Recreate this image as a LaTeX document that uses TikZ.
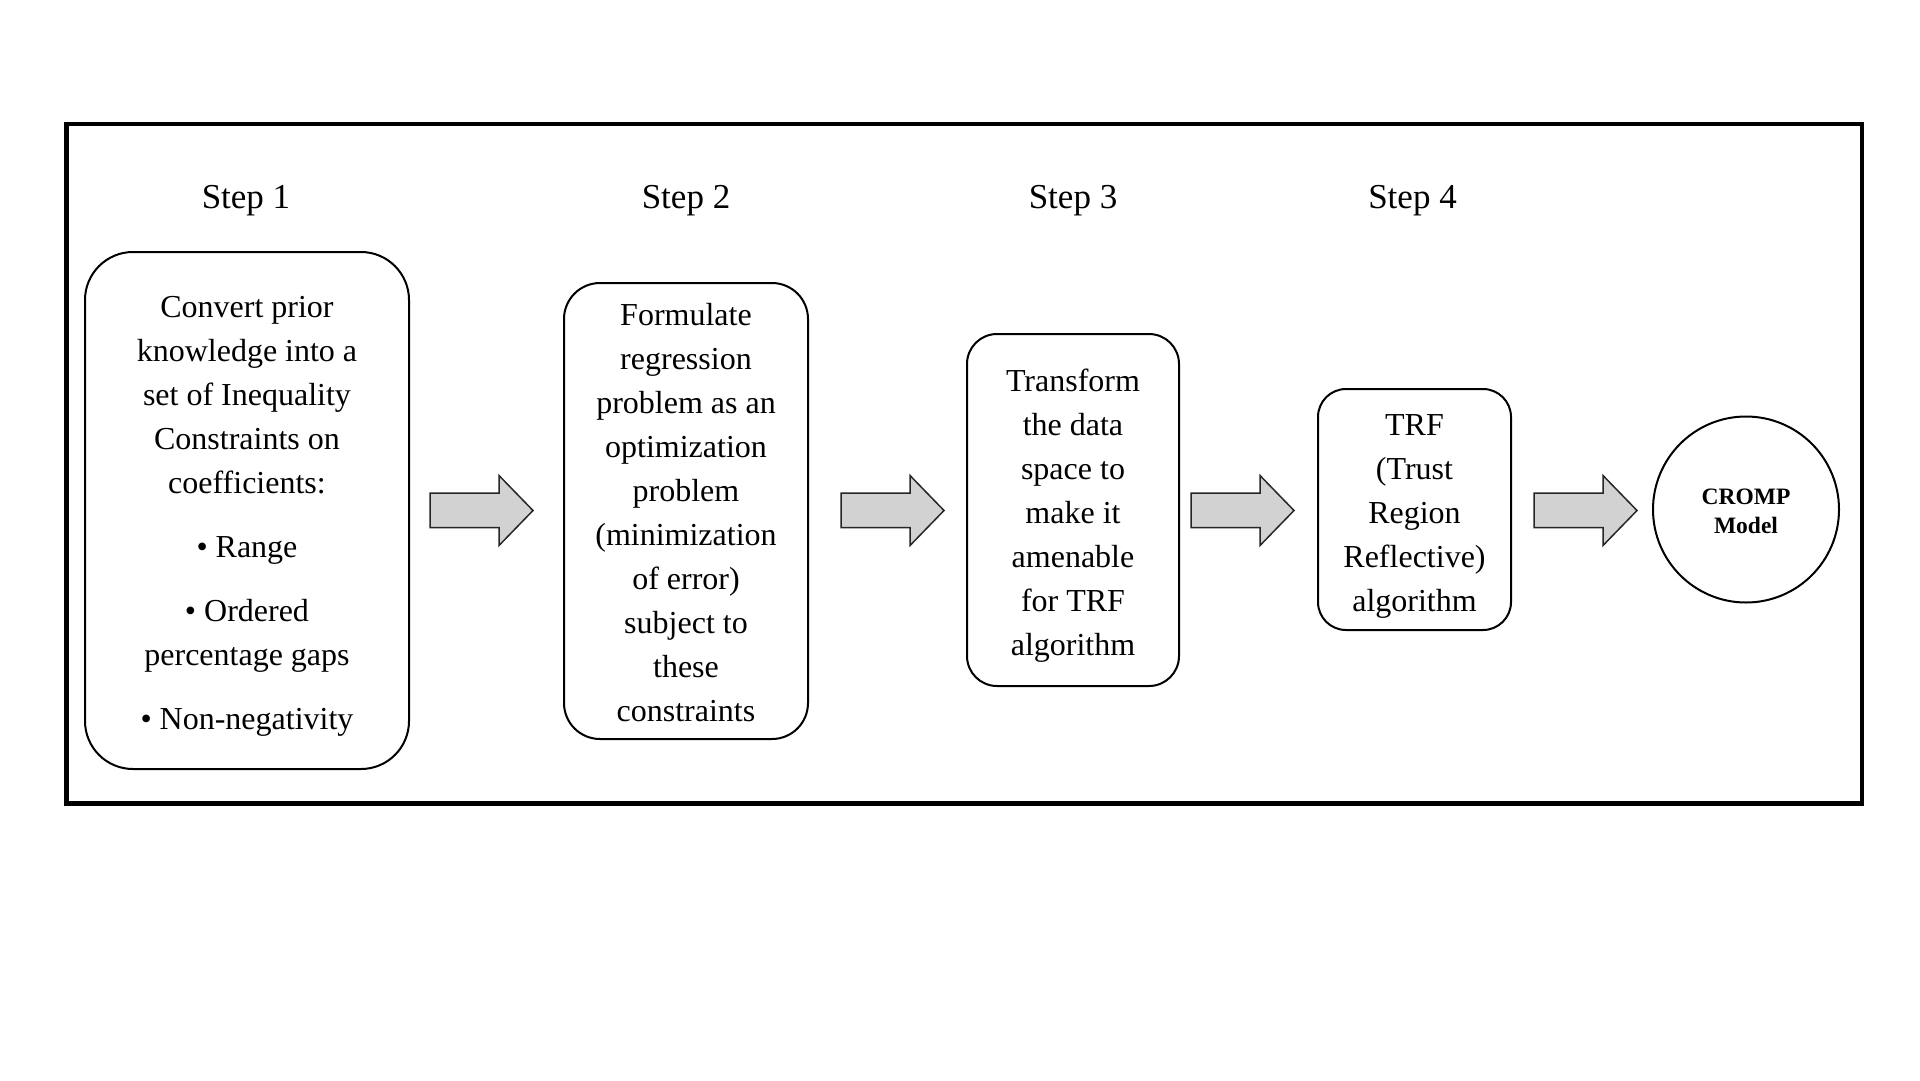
\documentclass[tikz,border=0pt]{standalone}
\usepackage{fontspec}
\setmainfont{Liberation Serif}
\definecolor{arrowgray}{RGB}{210,210,210}
\tikzset{
  stepbox/.style={draw, line width=2pt, inner sep=0pt},
  boxtext/.style={align=center, inner sep=0pt, font=\fontsize{32}{44}\selectfont},
  steplabel/.style={font=\fontsize{35}{40}\selectfont, inner sep=0pt},
  endcircle/.style={draw, line width=2pt, circle, align=center, inner sep=0pt,
    font=\fontsize{23.5}{29}\selectfont\bfseries},
  blockarrow/.style={draw=black!85, line width=1.5pt, fill=arrowgray, line join=miter},
  frame/.style={draw, line width=4.5pt}
}
\begin{document}
\begin{tikzpicture}[x=1pt, y=-1pt]
\useasboundingbox (0,0) rectangle (1920,1080);
\fill[white] (0,0) rectangle (1920,1080);
\draw[frame] (66.5,124) rectangle (1862,803.5);

% step labels
\node[steplabel] (s1) at (246,201) {Step 1};
\node[steplabel] (s2) at (686,201) {Step 2};
\node[steplabel] (s3) at (1073,201) {Step 3};
\node[steplabel] (s4) at (1412.5,201) {Step 4};

% boxes
\node[stepbox, rounded corners=48pt, minimum width=324pt, minimum height=517pt] (b1) at (247,510.5) {};
\node[boxtext] (t1) at ([yshift=-6pt]b1.center)
  {Convert prior\\knowledge into a\\set of Inequality\\Constraints on\\coefficients:\\[20pt]
   • Range\\[20pt] • Ordered\\percentage gaps\\[20pt] • Non-negativity};
\node[stepbox, rounded corners=36pt, minimum width=244pt, minimum height=456pt] (b2) at (686,511) {};
\node[boxtext] (t2) at ([yshift=-2pt]b2.center)
  {Formulate\\regression\\problem as an\\optimization\\problem\\(minimization\\of error)\\subject to\\these\\constraints};
\node[stepbox, rounded corners=30pt, minimum width=212pt, minimum height=352pt] (b3) at (1073,510) {};
\node[boxtext] (t3) at ([yshift=-6pt]b3.center)
  {Transform\\the data\\space to\\make it\\amenable\\for TRF\\algorithm};
\node[stepbox, rounded corners=28pt, minimum width=193pt, minimum height=241pt] (b4) at (1414.5,509.5) {};
\node[boxtext] (t4) at ([yshift=-7pt]b4.center)
  {TRF\\(Trust\\Region\\Reflective)\\algorithm};
\node[endcircle, minimum size=186pt] (c) at (1746,509.5) {};
\node[endcircle, draw=none, minimum size=0pt] (ct) at ([yshift=-2pt]c.center) {CROMP\\Model};

% block arrows
\foreach \xa in {430,841,1191,1534}{
  \draw[blockarrow] (\xa,493) -- ({\xa+69},493) -- ({\xa+69},475.5) -- ({\xa+103},510.5)
    -- ({\xa+69},545.5) -- ({\xa+69},527.5) -- (\xa,527.5) -- cycle;
}
\end{tikzpicture}
\end{document}
